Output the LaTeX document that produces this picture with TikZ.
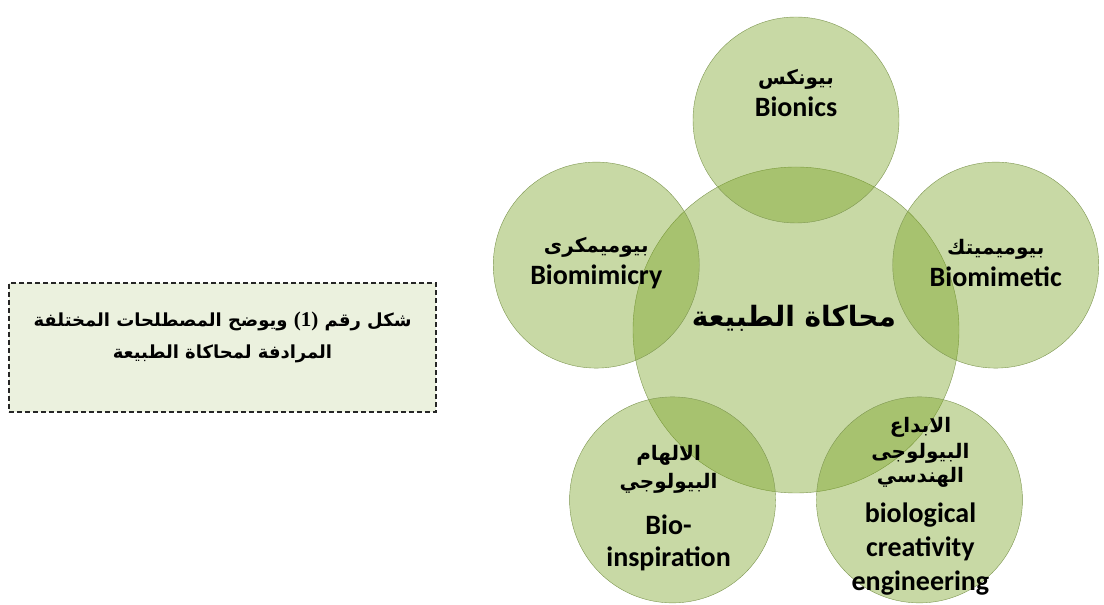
\documentclass[tikz,border=0pt]{standalone}
\usepackage{fontspec}
\setmainfont{Carlito}
\newfontfamily\arabicfont[Script=Arabic]{DejaVu Sans}
\newfontfamily\numfont{Liberation Serif}
\TeXXeTstate=1
\usepackage{xcolor}
\usetikzlibrary{calc}
\definecolor{leaf}{RGB}{118,160,30}
\definecolor{leafline}{RGB}{125,150,80}
\definecolor{paper}{RGB}{235,241,222}
\newcommand{\ar}[1]{{\arabicfont\bfseries\beginR #1\endR}}
\newcommand{\arline}[1]{{\arabicfont\fontsize{20}{24}\selectfont\beginR #1\endR}}
\tikzstyle{bubble} = [circle, draw=leafline, fill=leaf, fill opacity=0.4,
    text opacity=1, minimum size=206pt, inner sep=0pt]
\tikzstyle{hub} = [bubble, minimum size=326pt]
\tikzstyle{term} = [font=\bfseries\fontsize{28}{32}\selectfont, align=center,
    text=black]
\tikzstyle{captionbox} = [draw=black!85, line width=1.1pt,
    dash pattern=on 5pt off 3pt, fill=paper,
    minimum width=427pt, minimum height=129pt]

\begin{document}
\begin{tikzpicture}[x=1pt, y=1pt]
    \useasboundingbox (0,0) rectangle (1104,605);
    % caption on the left
    \node [captionbox] (caption) at (222.5,257.5) {};
    \node [font=\bfseries\fontsize{18}{32}\selectfont, align=center] (captiontext)
        at ($(caption.center)+(0,10)$)
        {\ar{شكل رقم \textbf{\numfont\fontsize{21}{32}\selectfont (1)} ويوضح المصطلحات المختلفة}\\
         \ar{المرادفة لمحاكاة الطبيعة}};
    % circles
    \coordinate (mid) at (796,275);
    \node [hub] (nature) at (mid) {};
    \node [bubble] (bionics) at ($(mid)+(90:210)$) {};
    \node [bubble] (biomimetic) at ($(mid)+(18:210)$) {};
    \node [bubble] (bioeng) at ($(mid)+(-54:210)$) {};
    \node [bubble] (bioinsp) at ($(mid)+(-126:210)$) {};
    \node [bubble] (biomimicry) at ($(mid)+(162:210)$) {};
    % labels
    \node [font=\arabicfont\bfseries\fontsize{28}{34}\selectfont] (naturetext)
        at ($(nature.center)+(-2,12)$) {\beginR محاكاة الطبيعة\endR};
    \node [term] (bionicstext) at ($(bionics.center)+(0,27)$)
        {\arline{بيونكس}\\ Bionics};
    \node [term] (biomimetictext) at ($(biomimetic.center)+(0,2)$)
        {\arline{بيوميميتك}\\ Biomimetic};
    \node [term] (biomimicrytext) at ($(biomimicry.center)+(0,2)$)
        {\arline{بيوميمكرى}\\ Biomimicry};
    \node [term] (bioinsptext) at ($(bioinsp.center)+(-4,-8)$)
        {\arline{الالهام}\\[-4pt]
         \arline{البيولوجي}\\[14pt]
         Bio-\\ inspiration};
    \node [term] (bioengtext) at ($(bioeng.center)+(1,-6)$)
        {\arline{الابداع}\\[-6pt]
         \arline{البيولوجى}\\[-8pt]
         \arline{الهندسي}\\[8pt]
         biological\\[2pt] creativity\\[2pt] engineering};
\end{tikzpicture}
\end{document}
